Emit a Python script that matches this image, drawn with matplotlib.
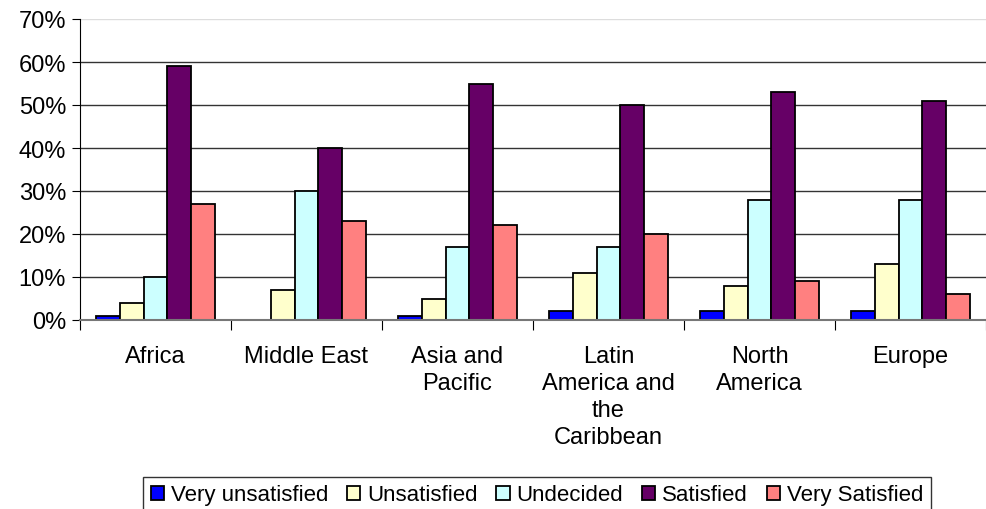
import numpy as np
import matplotlib.pyplot as plt
from matplotlib.ticker import FixedLocator, PercentFormatter

plt.rcParams['font.family'] = ['Liberation Sans', 'DejaVu Sans']

regions = ["Africa", "Middle East", "Asia and\nPacific",
           "Latin\nAmerica and\nthe\nCaribbean", "North\nAmerica", "Europe"]
series = ["Very unsatisfied", "Unsatisfied", "Undecided", "Satisfied", "Very Satisfied"]
very_unsatisfied = [1, 0, 1, 2, 2, 2]
unsatisfied = [4, 7, 5, 11, 8, 13]
undecided = [10, 30, 17, 17, 28, 28]
satisfied = [59, 40, 55, 50, 53, 51]
very_satisfied = [27, 23, 22, 20, 9, 6]
colors = ["#0000FF", "#FFFFCC", "#CCFFFF", "#660066", "#FF8080"]

values = [very_unsatisfied, unsatisfied, undecided, satisfied, very_satisfied]

fig = plt.figure(figsize=(9.87, 5.10), dpi=100)
ax = fig.add_axes([80 / 987, 189 / 510, 906 / 987, 301 / 510])

x = np.arange(len(regions))
width = 0.158
for i, (name, vals) in enumerate(zip(series, values)):
    offs = (i - 2) * width
    ax.bar(x + offs, vals, width, color=colors[i], edgecolor="black",
           linewidth=1.3, label=name, zorder=2)

ax.set_xlim(-0.5, len(regions) - 0.5)
ax.set_ylim(0, 70)
ax.yaxis.set_major_locator(FixedLocator(np.arange(0, 71, 10)))
ax.yaxis.set_major_formatter(PercentFormatter(decimals=0))
ax.grid(axis="y", color="#333333", linewidth=1.0, zorder=0)
ax.set_axisbelow(True)
gl = ax.get_ygridlines()
gl[-1].set_color("#dddddd")

# category labels sit between the boundary ticks
ax.set_xticks(np.arange(-0.5, len(regions), 1.0))
ax.set_xticklabels([])
ax.set_xticks(x, minor=True)
ax.set_xticklabels(regions, minor=True, fontsize=17, linespacing=1.3, va="top")
ax.tick_params(axis="x", which="minor", length=0, pad=18)
ax.tick_params(axis="x", which="major", length=7, direction="out", color="black")
ax.tick_params(axis="y", labelsize=17, length=6, direction="out", pad=4)

for s in ["top", "right"]:
    ax.spines[s].set_visible(False)
ax.spines["left"].set_color("black")
ax.spines["bottom"].set_color("#777777")
ax.spines["bottom"].set_linewidth(1.5)
ax.spines["bottom"].set_zorder(3)

leg = fig.legend(loc="lower center", bbox_to_anchor=(0.544, -0.03), ncol=5,
                 fontsize=16, frameon=True, fancybox=False, edgecolor="black",
                 handlelength=0.6, handleheight=0.6, handletextpad=0.3,
                 columnspacing=0.85, borderpad=0.35)
leg.get_frame().set_linewidth(1.0)

fig.savefig("out.png", dpi=100)
